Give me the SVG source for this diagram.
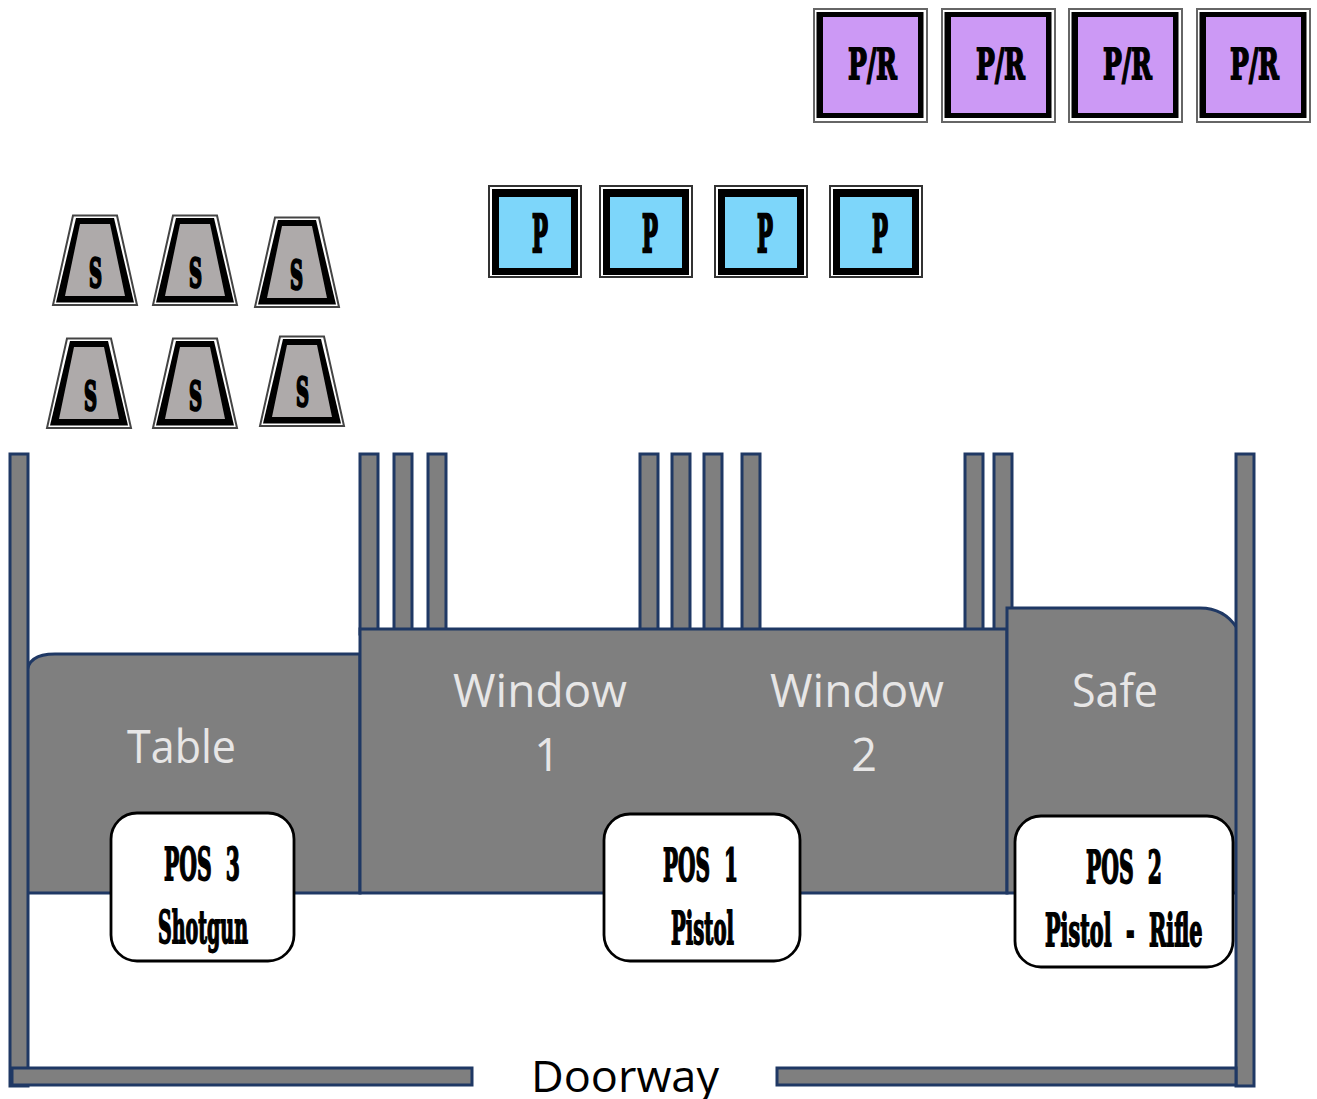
<svg xmlns="http://www.w3.org/2000/svg" width="1317" height="1099" viewBox="0 0 1317 1099">
<style>
.w{fill:#7f7f7f;stroke:#1f3864;stroke-width:3}
.l{font-family:"Open Sans","Noto Sans",sans-serif;font-size:45px;fill:#e7e6e6}
.d{font-family:"Open Sans","Noto Sans",sans-serif;font-size:43px;fill:#000}
.r{font-family:"DejaVu Serif",serif;font-weight:bold;fill:#000;stroke:#000;stroke-width:1.8;font-size:45px}
.pos{fill:#fff;stroke:#000;stroke-width:2.8}
.s{font-size:40px;stroke-width:2.6}.pp{font-size:52px;stroke-width:2.6}.pr{font-size:42px}
</style>
<defs>
<g id="sq"><rect x="1" y="1" width="92" height="91" fill="#fff" stroke="#333" stroke-width="2"/><rect x="4" y="4" width="86" height="86" fill="#000"/><rect x="11" y="12" width="72" height="71" fill="#7dd6fa"/></g>
<g id="sqp"><rect x="1" y="1" width="113" height="113" fill="#fff" stroke="#666" stroke-width="2"/><rect x="3.5" y="4" width="107" height="106" fill="#000"/><rect x="10" y="9" width="95" height="96" fill="#cc99f5"/></g>
<g id="tr"><polygon points="20,.5 64,.5 84,90 0,90" fill="#fff" stroke="#444" stroke-width="2"/><polygon points="23,3 61,3 81,87.5 3,87.5" fill="#000"/><polygon points="27,9 57,9 72,81 12,81" fill="#aeaaaa"/></g>
</defs>
<g id="pr-targets">
<g id="pr1"><use href="#sqp" x="813" y="8"/><text class="r pr" x="848" y="79" textLength="49" lengthAdjust="spacingAndGlyphs">P/R</text></g>
<g id="pr2"><use href="#sqp" x="941" y="8"/><text class="r pr" x="976" y="79" textLength="49" lengthAdjust="spacingAndGlyphs">P/R</text></g>
<g id="pr3"><use href="#sqp" x="1068" y="8"/><text class="r pr" x="1103" y="79" textLength="49" lengthAdjust="spacingAndGlyphs">P/R</text></g>
<g id="pr4"><use href="#sqp" x="1196" y="8"/><text class="r pr" x="1230" y="79" textLength="49" lengthAdjust="spacingAndGlyphs">P/R</text></g>
</g>
<g id="p-targets">
<g id="p1"><use href="#sq" x="488" y="185"/><text class="r pp" x="532" y="252" textLength="16" lengthAdjust="spacingAndGlyphs">P</text></g>
<g id="p2"><use href="#sq" x="599" y="185"/><text class="r pp" x="642" y="252" textLength="16" lengthAdjust="spacingAndGlyphs">P</text></g>
<g id="p3"><use href="#sq" x="714" y="185"/><text class="r pp" x="757" y="252" textLength="16" lengthAdjust="spacingAndGlyphs">P</text></g>
<g id="p4"><use href="#sq" x="829" y="185"/><text class="r pp" x="872" y="252" textLength="16" lengthAdjust="spacingAndGlyphs">P</text></g>
</g>
<g id="s-targets">
<g id="s1"><use href="#tr" x="53" y="215"/><text class="r s" x="89" y="287" textLength="13" lengthAdjust="spacingAndGlyphs">S</text></g>
<g id="s2"><use href="#tr" x="153" y="215"/><text class="r s" x="189" y="287" textLength="13" lengthAdjust="spacingAndGlyphs">S</text></g>
<g id="s3"><use href="#tr" x="255" y="217"/><text class="r s" x="290" y="289" textLength="13" lengthAdjust="spacingAndGlyphs">S</text></g>
<g id="s4"><use href="#tr" x="47" y="338"/><text class="r s" x="84" y="410" textLength="13" lengthAdjust="spacingAndGlyphs">S</text></g>
<g id="s5"><use href="#tr" x="153" y="338"/><text class="r s" x="189" y="410" textLength="13" lengthAdjust="spacingAndGlyphs">S</text></g>
<g id="s6"><use href="#tr" x="260" y="336"/><text class="r s" x="296" y="406" textLength="13" lengthAdjust="spacingAndGlyphs">S</text></g>
</g>
<g id="room">
<rect class="w" x="360" y="454" width="18" height="180"/>
<rect class="w" x="394" y="454" width="18" height="180"/>
<rect class="w" x="428" y="454" width="18" height="180"/>
<rect class="w" x="640" y="454" width="18" height="180"/>
<rect class="w" x="672" y="454" width="18" height="180"/>
<rect class="w" x="704" y="454" width="18" height="180"/>
<rect class="w" x="742" y="454" width="18" height="180"/>
<rect class="w" x="965" y="454" width="18" height="180"/>
<rect class="w" x="994" y="454" width="18" height="180"/>
<path id="table" class="w" d="M27 893V674Q27 654 55 654H360V893Z"/>
<rect id="windows" class="w" x="360" y="629" width="647" height="264"/>
<path id="safe" class="w" d="M1007 893V608H1200Q1224 608 1237 628V893Z"/>
<rect id="wall-left" class="w" x="10" y="454" width="18" height="632"/>
<rect id="wall-right" class="w" x="1236" y="454" width="18" height="632"/>
<rect id="wall-bottom-left" class="w" x="12" y="1068" width="460" height="17"/>
<rect id="wall-bottom-right" class="w" x="777" y="1068" width="459" height="17"/>
<text class="l" x="127" y="763" textLength="109" lengthAdjust="spacingAndGlyphs">Table</text>
<text class="l" x="453" y="707" textLength="174" lengthAdjust="spacingAndGlyphs">Window</text>
<text class="l" x="547" y="771" text-anchor="middle">1</text>
<text class="l" x="770" y="707" textLength="174" lengthAdjust="spacingAndGlyphs">Window</text>
<text class="l" x="864" y="771" text-anchor="middle">2</text>
<text class="l" x="1072" y="707" textLength="86" lengthAdjust="spacingAndGlyphs">Safe</text>
<text class="d" x="531" y="1092" textLength="188" lengthAdjust="spacingAndGlyphs">Doorway</text>
</g>
<g id="pos3"><rect class="pos" x="111" y="813" width="183" height="148" rx="26"/><text class="r" x="164" y="880" textLength="76" lengthAdjust="spacingAndGlyphs" xml:space="preserve">POS  3</text><text class="r" x="158" y="943" textLength="90" lengthAdjust="spacingAndGlyphs">Shotgun</text></g>
<g id="pos1"><rect class="pos" x="604" y="814" width="196" height="147" rx="26"/><text class="r" x="663" y="881" textLength="75" lengthAdjust="spacingAndGlyphs" xml:space="preserve">POS  1</text><text class="r" x="671" y="944" textLength="63" lengthAdjust="spacingAndGlyphs">Pistol</text></g>
<g id="pos2"><rect class="pos" x="1015" y="816" width="218" height="151" rx="26"/><text class="r" x="1086" y="883" textLength="76" lengthAdjust="spacingAndGlyphs" xml:space="preserve">POS  2</text><text class="r" transform="translate(1045 946) scale(.42 1)" textLength="375" lengthAdjust="spacingAndGlyphs" xml:space="preserve">Pistol  -  Rifle</text></g>
</svg>
